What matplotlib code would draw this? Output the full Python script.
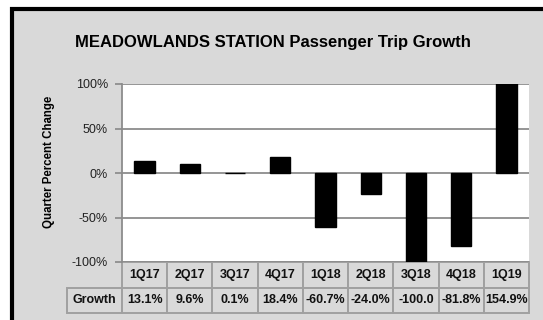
import matplotlib
matplotlib.use("Agg")
import matplotlib.pyplot as plt
from matplotlib.patches import Rectangle

categories = ["1Q17", "2Q17", "3Q17", "4Q17", "1Q18", "2Q18", "3Q18", "4Q18", "1Q19"]
growth = [13.1, 9.6, 0.1, 18.4, -60.7, -24.0, -100.0, -81.8, 154.9]
growth_labels = ["13.1%", "9.6%", "0.1%", "18.4%", "-60.7%", "-24.0%", "-100.0", "-81.8%", "154.9%"]
yticks = [-100, -50, 0, 50, 100]
ytick_labels = ["-100%", "-50%", "0%", "50%", "100%"]

W, H = 543, 320
fig = plt.figure(figsize=(W / 100, H / 100), dpi=100, facecolor="white")
plt.rcParams["font.family"] = ["Liberation Sans", "DejaVu Sans"]

# background panel with black border (left/top visible)
fig.patches.append(Rectangle((12 / W, -0.1), 1.2, 1 - 9 / H + 0.1, transform=fig.transFigure,
                             facecolor="#d9d9d9", edgecolor="black", linewidth=3.0, zorder=-10))

left, right, top, bottom = 122, 529, 84, 262
ax = fig.add_axes([left / W, 1 - bottom / H, (right - left) / W, (bottom - top) / H])
ax.set_facecolor("white")

x = list(range(len(categories)))
ax.bar(x, growth, width=0.45, color="black", edgecolor="black", linewidth=1.0, zorder=3)
ax.set_xlim(-0.5, len(categories) - 0.5)
ax.set_ylim(-100, 100)
ax.set_yticks(yticks)
ax.set_yticklabels(ytick_labels, fontsize=9, color="#222222")
ax.set_xticks([])
ax.tick_params(axis="y", length=5, width=1.2, color="#888888", pad=5)
for v in yticks:
    ax.axhline(v, color="#8c8c8c", linewidth=1.3, zorder=2)
for s in ["top", "right", "bottom"]:
    ax.spines[s].set_visible(False)
ax.spines["left"].set_color("#8c8c8c")
ax.spines["left"].set_linewidth(1.3)

ax.set_ylabel("Quarter Percent Change", fontsize=8.3, fontweight="bold", labelpad=10)
ax.yaxis.set_label_coords((55 - left) / (right - left), 0.56)

fig.text(273 / W, 1 - 42 / H, "MEADOWLANDS STATION Passenger Trip Growth",
         ha="center", va="center", fontsize=12, fontweight="bold")

# data table
pw = right - left
ph = bottom - top
lab_w = 55
cell_text = [[""] + categories, ["Growth"] + growth_labels]
col_widths = [lab_w / pw] + [1 / len(categories)] * len(categories)
tbl = ax.table(cellText=cell_text, colWidths=col_widths, cellLoc="center",
               bbox=[-lab_w / pw, -(313 - bottom) / ph, 1 + lab_w / pw, (313 - bottom) / ph])
tbl.auto_set_font_size(False)
tbl.set_fontsize(9)
for (r, c), cell in tbl.get_celld().items():
    cell.set_facecolor("#d9d9d9")
    cell.set_edgecolor("#a0a0a0")
    cell.set_linewidth(1.4)
    cell.get_text().set_fontweight("bold")
    cell.get_text().set_color("#111111")
    if r == 0 and c == 0:
        cell.set_visible(False)

fig.savefig("out.png", dpi=100, facecolor="white")
